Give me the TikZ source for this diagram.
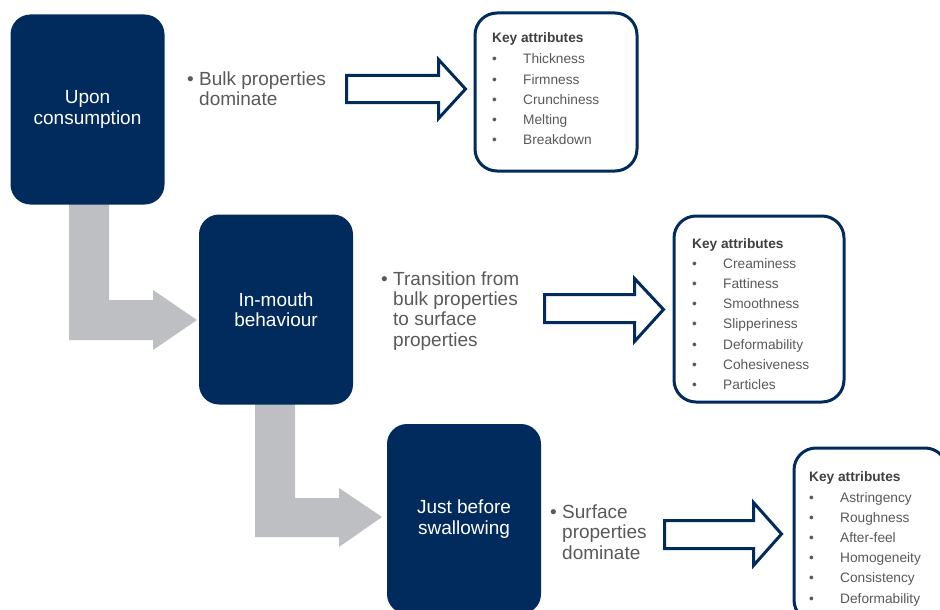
\documentclass[tikz,border=0pt]{standalone}
\usepackage{fontspec}
\setmainfont{Liberation Sans}
\definecolor{navy}{HTML}{002B5C}
\definecolor{arrowgray}{HTML}{BEBFC3}
\definecolor{textgray}{HTML}{595959}
\definecolor{titlegray}{HTML}{404040}
\tikzset{
  stage/.style={fill=navy, rounded corners=20pt, text=white, align=center,
    minimum width=154pt, minimum height=190pt, inner sep=0pt,
    font=\fontsize{19}{20.5}\selectfont},
  keybox/.style={draw=navy, line width=3pt, rounded corners=22pt, fill=white, inner sep=0pt},
  keytitle/.style={anchor=base west, inner sep=0pt, text=titlegray,
    font=\bfseries\fontsize{13.7}{16}\selectfont},
  keyitem/.style={anchor=base west, inner sep=0pt, text=textgray,
    font=\fontsize{13.7}{16}\selectfont},
  desc/.style={anchor=base west, inner sep=0pt, text=textgray, align=left,
    font=\fontsize{19}{20.3}\selectfont},
  hollow/.style={draw=navy, line width=3pt, fill=white, line join=miter},
  grayarrow/.style={fill=arrowgray, draw=none}
}
\begin{document}
\begin{tikzpicture}[x=1pt,y=-1pt]
\useasboundingbox (0,0) rectangle (940,610);
\clip (0,0) rectangle (940,610);

% gray L-shaped arrows
\path[grayarrow] (69,200) -- (109,200) -- (109,300) -- (153,300) -- (153,290)
  -- (197,320) -- (153,350) -- (153,340) -- (69,340) -- cycle;
\path[grayarrow] (255,398) -- (295,398) -- (295,498) -- (339,498) -- (339,488)
  -- (382,517) -- (339,547) -- (339,537) -- (255,537) -- cycle;

% stage boxes
\node[stage] (s1) at (87.5,109.5) {Upon\\consumption};
\node[stage] (s2) at (276,309.5) {In-mouth\\behaviour};
\node[stage] (s3) at (464,519) {Just before\\swallowing};

% descriptions (base anchor = baseline of the last line)
\node[desc] (d1) at (187,106) {\makebox[12pt][l]{\textbullet}Bulk properties\\\hspace*{12pt}dominate};
\node[desc] (d2) at (381,346) {\makebox[12pt][l]{\textbullet}Transition from\\\hspace*{12pt}bulk properties\\\hspace*{12pt}to surface\\\hspace*{12pt}properties};
\node[desc] (d3) at (550,559) {\makebox[12pt][l]{\textbullet}Surface\\\hspace*{12pt}properties\\\hspace*{12pt}dominate};

% hollow arrows
\draw[hollow] (346.5,75.5) -- (438.5,75.5) -- (438.5,59.5) -- (465.5,89) -- (438.5,118.5)
  -- (438.5,102.5) -- (346.5,102.5) -- cycle;
\draw[hollow] (544.5,294.5) -- (634.5,294.5) -- (634.5,278.5) -- (663.5,309.5) -- (634.5,341.5)
  -- (634.5,322.5) -- (544.5,322.5) -- cycle;
\draw[hollow] (664.5,520.5) -- (753.5,520.5) -- (753.5,502.5) -- (781.5,534) -- (753.5,565.5)
  -- (753.5,548.5) -- (664.5,548.5) -- cycle;

% key attribute boxes
\node[keybox, minimum width=162pt, minimum height=158pt] (k1) at (556,92) {};
\node[keybox, minimum width=170pt, minimum height=186pt] (k2) at (759,309) {};
\node[keybox, minimum width=153pt, minimum height=174pt] (k3) at (870.5,535) {};

\node[keytitle] (k1t) at (492,43) {Key attributes};
\foreach \t [count=\i from 0] in {Thickness,Firmness,Crunchiness,Melting,Breakdown}
  \node[keyitem] (k1i\i) at (492,64+20.2*\i) {\makebox[31pt][l]{\textbullet}\t};

\node[keytitle] (k2t) at (692,248) {Key attributes};
\foreach \t [count=\i from 0] in {Creaminess,Fattiness,Smoothness,Slipperiness,Deformability,Cohesiveness,Particles}
  \node[keyitem] (k2i\i) at (692,268+20.3*\i) {\makebox[31pt][l]{\textbullet}\t};

\node[keytitle] (k3t) at (809,481) {Key attributes};
\foreach \t [count=\i from 0] in {Astringency,Roughness,After-feel,Homogeneity,Consistency,Deformability}
  \node[keyitem] (k3i\i) at (809,502+20.2*\i) {\makebox[31pt][l]{\textbullet}\t};
\end{tikzpicture}
\end{document}
